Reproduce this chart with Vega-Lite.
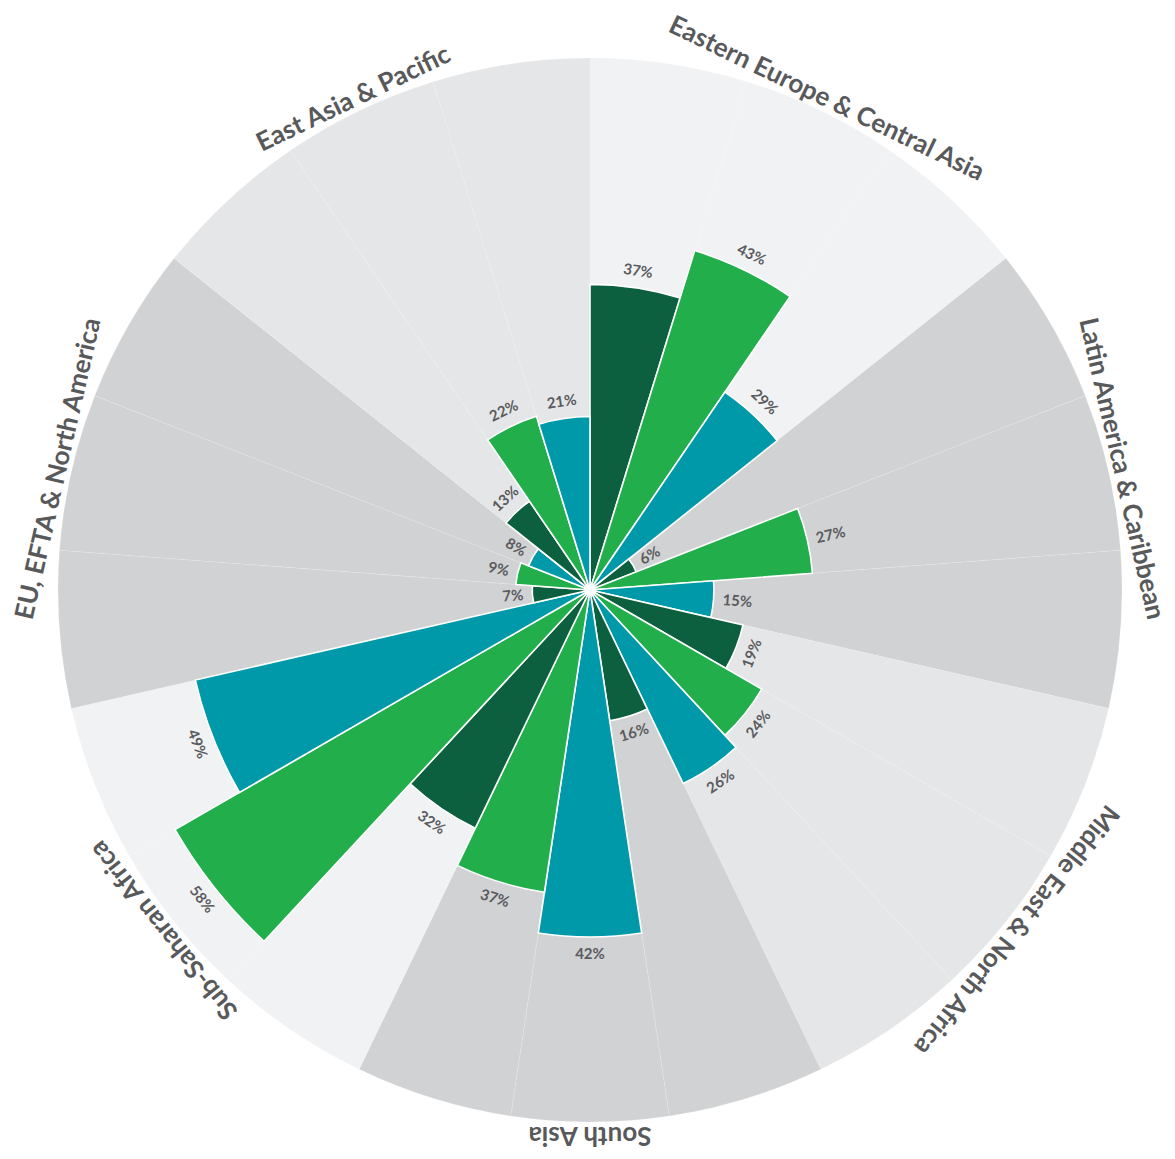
{
  "$schema": "https://vega.github.io/schema/vega-lite/v6.json",
  "width": 1170,
  "height": 1138,
  "autosize": {"type": "none"},
  "padding": {"left": 5, "top": 21, "right": 0, "bottom": 0},
  "background": "#ffffff",
  "config": {"view": {"stroke": null}},
  "data": {
    "values": [
      {"region": "Eastern Europe & Central Asia", "type": "Series 1", "value": 37},
      {"region": "Eastern Europe & Central Asia", "type": "Series 2", "value": 43},
      {"region": "Eastern Europe & Central Asia", "type": "Series 3", "value": 29},
      {"region": "Latin America & Caribbean", "type": "Series 1", "value": 6},
      {"region": "Latin America & Caribbean", "type": "Series 2", "value": 27},
      {"region": "Latin America & Caribbean", "type": "Series 3", "value": 15},
      {"region": "Middle East & North Africa", "type": "Series 1", "value": 19},
      {"region": "Middle East & North Africa", "type": "Series 2", "value": 24},
      {"region": "Middle East & North Africa", "type": "Series 3", "value": 26},
      {"region": "South Asia", "type": "Series 1", "value": 16},
      {"region": "South Asia", "type": "Series 3", "value": 42},
      {"region": "South Asia", "type": "Series 2", "value": 37},
      {"region": "Sub-Saharan Africa", "type": "Series 1", "value": 32},
      {"region": "Sub-Saharan Africa", "type": "Series 2", "value": 58},
      {"region": "Sub-Saharan Africa", "type": "Series 3", "value": 49},
      {"region": "EU, EFTA & North America", "type": "Series 1", "value": 7},
      {"region": "EU, EFTA & North America", "type": "Series 2", "value": 9},
      {"region": "EU, EFTA & North America", "type": "Series 3", "value": 8},
      {"region": "East Asia & Pacific", "type": "Series 1", "value": 13},
      {"region": "East Asia & Pacific", "type": "Series 2", "value": 22},
      {"region": "East Asia & Pacific", "type": "Series 3", "value": 21}
    ]
  },
  "transform": [
    {"window": [{"op": "row_number", "as": "rn"}]},
    {"calculate": "datum.rn - 1", "as": "t0"},
    {"calculate": "datum.rn", "as": "t1"},
    {"calculate": "datum.rn - 0.5", "as": "mid"},
    {"calculate": "(datum.rn - 0.5) * 360 / 21", "as": "deg"},
    {"calculate": "datum.region == 'Latin America & Caribbean' ? datum.deg - 90 : (datum.region == 'EU, EFTA & North America' ? datum.deg - 270 : ((datum.deg > 90 && datum.deg < 270) ? datum.deg - 180 : (datum.deg >= 270 ? datum.deg - 360 : datum.deg)))", "as": "la"},
    {"calculate": "datum.value + '%'", "as": "lbl"}
  ],
  "layer": [
    {
      "mark": {"type": "arc", "radius": 532, "stroke": "#ffffff", "strokeWidth": 0.5, "strokeOpacity": 0.25},
      "encoding": {
        "theta": {"field": "t0", "type": "quantitative", "scale": {"domain": [0, 21]}},
        "theta2": {"field": "t1"},
        "fill": {
          "field": "region", "type": "nominal", "legend": null,
          "scale": {
            "domain": ["Eastern Europe & Central Asia", "Latin America & Caribbean", "Middle East & North Africa", "South Asia", "Sub-Saharan Africa", "EU, EFTA & North America", "East Asia & Pacific"],
            "range": ["#f1f2f3", "#d1d2d4", "#e5e6e8", "#d1d2d4", "#f1f2f3", "#d1d2d4", "#e5e6e8"]
          }
        }
      }
    },
    {
      "mark": {"type": "arc", "stroke": "#ffffff", "strokeWidth": 1.6},
      "encoding": {
        "theta": {"field": "t0", "type": "quantitative", "scale": {"domain": [0, 21]}},
        "theta2": {"field": "t1"},
        "radius": {"field": "value", "type": "quantitative", "scale": {"type": "linear", "domain": [0, 64.4], "range": [0, 532], "zero": true}},
        "color": {
          "field": "type", "type": "nominal", "legend": null,
          "scale": {"domain": ["Series 1", "Series 2", "Series 3"], "range": ["#0c5f3f", "#22af4b", "#0099a9"]}
        }
      }
    },
    {
      "transform": [{"filter": "datum.region != 'Latin America & Caribbean' && datum.region != 'EU, EFTA & North America'"}],
      "mark": {"type": "text", "align": "center", "baseline": "middle", "radiusOffset": 17, "font": "Lato", "fontWeight": "bold", "fontSize": 15, "fill": "#5a5b5e"},
      "encoding": {
        "theta": {"field": "mid", "type": "quantitative", "scale": {"domain": [0, 21]}},
        "radius": {"field": "value", "type": "quantitative", "scale": {"type": "linear", "domain": [0, 64.4], "range": [0, 532], "zero": true}},
        "angle": {"field": "la", "type": "quantitative", "scale": null},
        "text": {"field": "lbl", "type": "nominal"}
      }
    },
    {
      "transform": [{"filter": "datum.region == 'Latin America & Caribbean'"}],
      "mark": {"type": "text", "align": "left", "baseline": "middle", "radiusOffset": 9, "font": "Lato", "fontWeight": "bold", "fontSize": 15, "fill": "#5a5b5e"},
      "encoding": {
        "theta": {"field": "mid", "type": "quantitative", "scale": {"domain": [0, 21]}},
        "radius": {"field": "value", "type": "quantitative", "scale": {"type": "linear", "domain": [0, 64.4], "range": [0, 532], "zero": true}},
        "angle": {"field": "la", "type": "quantitative", "scale": null},
        "text": {"field": "lbl", "type": "nominal"}
      }
    },
    {
      "transform": [{"filter": "datum.region == 'EU, EFTA & North America'"}],
      "mark": {"type": "text", "align": "right", "baseline": "middle", "radiusOffset": 9, "font": "Lato", "fontWeight": "bold", "fontSize": 15, "fill": "#5a5b5e"},
      "encoding": {
        "theta": {"field": "mid", "type": "quantitative", "scale": {"domain": [0, 21]}},
        "radius": {"field": "value", "type": "quantitative", "scale": {"type": "linear", "domain": [0, 64.4], "range": [0, 532], "zero": true}},
        "angle": {"field": "la", "type": "quantitative", "scale": null},
        "text": {"field": "lbl", "type": "nominal"}
      }
    },
    {
      "transform": [{"filter": "(datum.rn - 1) % 3 == 1"}],
      "mark": {"type": "text", "align": "center", "baseline": "alphabetic", "radius": 537, "font": "Lato", "fontWeight": "bold", "fontSize": 26, "fill": "#58595b"},
      "encoding": {
        "theta": {"field": "mid", "type": "quantitative", "scale": {"domain": [0, 21]}},
        "angle": {"field": "deg", "type": "quantitative", "scale": null},
        "text": {"field": "region", "type": "nominal"}
      }
    }
  ],
  "resolve": {"scale": {"color": "independent", "fill": "independent"}}
}
